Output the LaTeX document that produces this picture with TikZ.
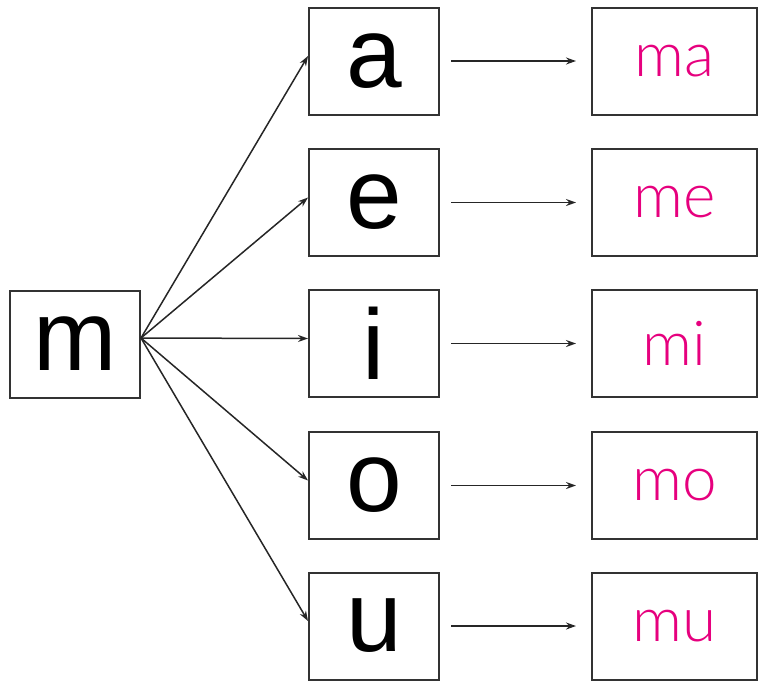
\documentclass[tikz,border=0pt]{standalone}
\usepackage{fontspec}
\setmainfont{Liberation Sans}
\newfontfamily\syllfont{Lato}[UprightFont=* Light]
\usepackage{xcolor}
\usetikzlibrary{arrows.meta,positioning}
\definecolor{syllpink}{HTML}{E6007E}

\begin{document}
\begin{tikzpicture}[x=0.5pt,y=-0.5pt,
  box/.style={draw=black!80,line width=1pt,minimum width=#1,minimum height=53.5pt,inner sep=0pt},
  letter/.style={box=65pt,font=\fontsize{50}{50}\selectfont},
  syll/.style={box=82.5pt,font=\syllfont\fontsize{31}{31}\selectfont,text=syllpink},
  arr/.style={-{Stealth[length=5pt,width=3.5pt]},line width=0.75pt,draw=black!85}]
\useasboundingbox (0,0) rectangle (760,681);
\node[letter] (m) at (75,344) {m};
\node[letter] (a) at (374,61) {a};
\node[letter] (e) at (374,202.5) {e};
\node[letter] (i) at (374,343.5) {i};
\node[letter] (o) at (374,485.5) {o};
\node[letter] (u) at (374,626) {u};
\node[syll] (ma) at (674.5,61) {ma};
\node[syll] (me) at (674.5,202.5) {me};
\node[syll] (mi) at (674.5,343.5) {mi};
\node[syll] (mo) at (674.5,485.5) {mo};
\node[syll] (mu) at (674.5,626) {mu};
\foreach \v in {a,e,i,o,u}{
  \draw[arr] ([yshift=3pt]m.east) -- ([yshift=2.5pt]\v.west);
  \draw[arr,shorten <=5.5pt,shorten >=7.5pt] (\v.east) -- (m\v.west);
}
\end{tikzpicture}
\end{document}
